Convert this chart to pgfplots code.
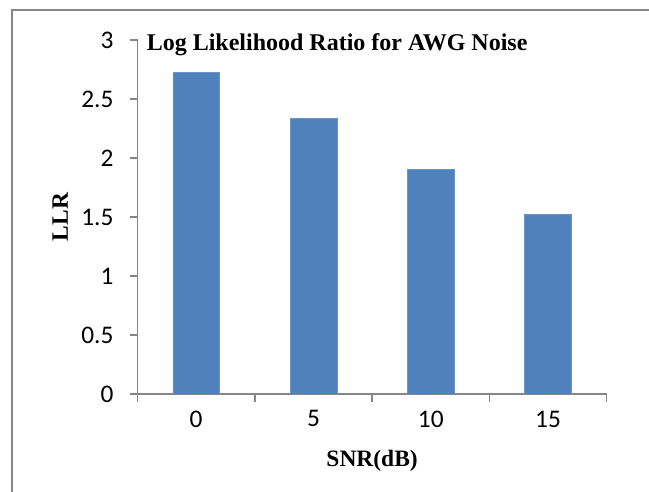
\documentclass[border=0pt]{standalone}
\usepackage{pgfplots}
\pgfplotsset{compat=1.18}
\usepackage{fontspec}
\setmainfont{Liberation Serif}
\newfontfamily\calibri{Carlito}
\definecolor{barblue}{RGB}{79,129,189}
\definecolor{axgray}{RGB}{134,134,134}
\begin{document}
\begin{tikzpicture}[x=0.75pt,y=0.75pt]
\useasboundingbox (0,0) rectangle (649,492);
\draw[axgray, line width=1.5pt] (12,-5) -- (12,482) -- (660,482);
\begin{axis}[
  at={(103.125pt,73.5pt)}, anchor=south west,
  scale only axis, width=351.9pt, height=265.5pt,
  xmin=-0.5, xmax=3.5, ymin=0, ymax=3,
  axis lines*=left,
  axis line style={axgray, line width=1.1pt},
  ybar, bar width=35pt,
  ytick={0,0.5,1,1.5,2,2.5,3},
  xtick={0,1,2,3}, xticklabels={0,5,10,15},
  minor xtick={-0.5,0.5,1.5,2.5,3.5},
  major x tick style={draw=none},
  tick align=outside,
  major tick length=6pt, minor tick length=6pt,
  tick style={axgray, line width=1.1pt},
  minor tick style={axgray, line width=1.1pt},
  /pgf/number format/assume math mode=true,
  tick label style={font=\calibri\fontsize{19}{22}\selectfont},
  yticklabel style={anchor=east, xshift=-8.5pt},
  xticklabel style={anchor=north, yshift=-3pt},
  xlabel={SNR(dB)}, ylabel={LLR},
  every axis x label/.style={at={(axis description cs:0.5,-0.2034)}, anchor=base, font=\bfseries\fontsize{17.6}{20}\selectfont},
  every axis y label/.style={at={(axis description cs:-0.165,0.5)}, anchor=center, rotate=90, font=\bfseries\fontsize{17.6}{20}\selectfont},
]
\addplot[fill=barblue, draw=barblue!85!white] coordinates {(0,2.726) (1,2.333) (2,1.904) (3,1.525)};
\end{axis}
\node[anchor=base west, inner sep=0pt, font=\bfseries\fontsize{18}{21}\selectfont] at (146.5,441) {Log Likelihood Ratio for AWG Noise};
\end{tikzpicture}
\end{document}
